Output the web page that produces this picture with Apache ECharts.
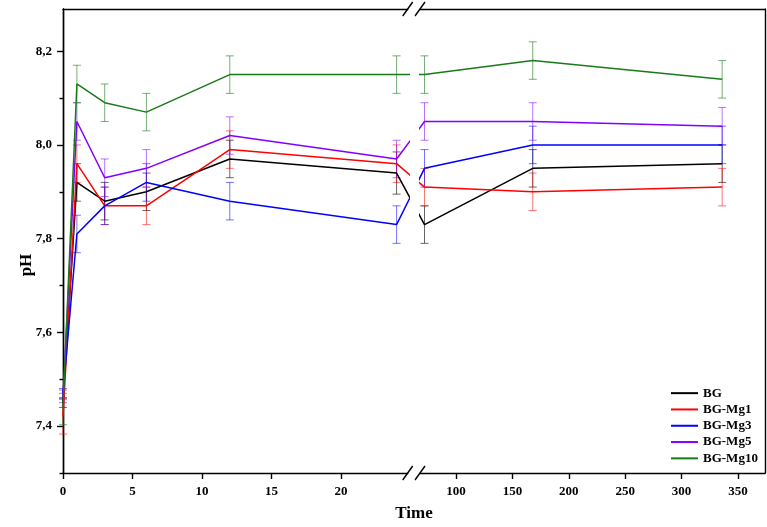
<!DOCTYPE html>
<html><head><meta charset="utf-8">
<script src="https://cdn.jsdelivr.net/npm/echarts@6/dist/echarts.min.js"></script>
<style>html,body{margin:0;padding:0;background:#fff}#c{width:767px;height:527px}</style>
</head><body><div id="c"></div>
<script>
// ---- data ----
const times = [0, 1, 3, 6, 12, 24, 72, 168, 336];
const seriesNames = ['BG', 'BG-Mg1', 'BG-Mg3', 'BG-Mg5', 'BG-Mg10'];
const bgPH    = [7.45, 7.92, 7.88, 7.90, 7.97, 7.94, 7.83, 7.95, 7.96];
const bgErr   = [0.01, 0.04, 0.04, 0.04, 0.04, 0.045, 0.04, 0.04, 0.04];
const mg1PH   = [7.42, 7.96, 7.87, 7.87, 7.99, 7.96, 7.91, 7.90, 7.91];
const mg1Err  = [0.037, 0.04, 0.04, 0.04, 0.04, 0.04, 0.04, 0.04, 0.04];
const mg3PH   = [7.47, 7.81, 7.87, 7.92, 7.88, 7.83, 7.95, 8.00, 8.00];
const mg3Err  = [0.01, 0.04, 0.04, 0.04, 0.04, 0.04, 0.04, 0.04, 0.04];
const mg5PH   = [7.46, 8.05, 7.93, 7.95, 8.02, 7.97, 8.05, 8.05, 8.04];
const mg5Err  = [0.01, 0.04, 0.04, 0.04, 0.04, 0.04, 0.04, 0.04, 0.04];
const mg10PH  = [7.44, 8.13, 8.09, 8.07, 8.15, 8.15, 8.15, 8.18, 8.14];
const mg10Err = [0.037, 0.04, 0.04, 0.04, 0.04, 0.04, 0.04, 0.04, 0.04];
const yTicksMajor = [7.4, 7.6, 7.8, 8.0, 8.2];
const yTicksMinor = [7.3, 7.5, 7.7, 7.9, 8.1];
const xTicksLeft  = [0, 5, 10, 15, 20];
const xTicksRight = [100, 150, 200, 250, 300, 350];

const values = [bgPH, mg1PH, mg3PH, mg5PH, mg10PH];
const errors = [bgErr, mg1Err, mg3Err, mg5Err, mg10Err];
const colors = ['#000000', '#ff0000', '#0000ff', '#8000ff', '#1a7a1a'];
const errColors = ['rgba(0,0,0,0.6)', 'rgba(255,0,0,0.55)', 'rgba(0,0,255,0.55)', 'rgba(128,0,255,0.55)', 'rgba(26,122,26,0.6)'];

// ---- layout ----
const FONT = "'Liberation Serif','Times New Roman',serif";
const TOP = 9, BOT = 473, LEFT_X = 63, LEFT_END = 407.7, RIGHT_START = 420, RIGHT_END = 765;
const Y_MIN = 7.3, Y_MAX = 8.29;
const BREAK_T = 48; // time separating left panel from right panel

const chart = echarts.init(document.getElementById('c'), null, {renderer: 'canvas'});

const axisLineStyle = {color: '#000', width: 1.4};
const labelStyle = {color: '#000', fontFamily: FONT, fontWeight: 'bold', fontSize: 13};

function errRender(color) {
  return function (params, api) {
    const x = api.value(0), y = api.value(1), e = api.value(2);
    const t = api.coord([x, y + e]);
    const b = api.coord([x, y - e]);
    const w = 4;
    const st = {stroke: color, lineWidth: 1};
    return {type: 'group', children: [
      {type: 'line', shape: {x1: t[0], y1: t[1], x2: b[0], y2: b[1]}, style: st},
      {type: 'line', shape: {x1: t[0] - w, y1: t[1], x2: t[0] + w, y2: t[1]}, style: st},
      {type: 'line', shape: {x1: b[0] - w, y1: b[1], x2: b[0] + w, y2: b[1]}, style: st}
    ]};
  };
}

function pts(i, left) {
  const out = [];
  times.forEach((t, k) => { if ((t < BREAK_T) === left) out.push([t, values[i][k]]); });
  return out;
}
function errPts(i, left) {
  const out = [];
  times.forEach((t, k) => { if ((t < BREAK_T) === left) out.push([t, values[i][k], errors[i][k]]); });
  return out;
}

function buildSeries(leftData, rightData) {
  const s = [];
  seriesNames.forEach((name, i) => {
    s.push({type: 'line', name: name, xAxisIndex: 0, yAxisIndex: 0, data: leftData[i], symbol: 'none',
      clip: true, color: colors[i], lineStyle: {color: colors[i], width: 1.5}, itemStyle: {color: colors[i]}, z: 3});
    s.push({type: 'line', name: name, xAxisIndex: 2, yAxisIndex: 2, data: rightData[i], symbol: 'none',
      clip: true, color: colors[i], lineStyle: {color: colors[i], width: 1.5}, itemStyle: {color: colors[i]}, z: 3});
  });
  seriesNames.forEach((name, i) => {
    s.push({type: 'custom', name: name, xAxisIndex: 0, yAxisIndex: 0, renderItem: errRender(errColors[i]),
      data: errPts(i, true), encode: {x: 0, y: 1}, z: 1, silent: true, color: colors[i], itemStyle: {color: colors[i]}});
    s.push({type: 'custom', name: name, xAxisIndex: 2, yAxisIndex: 2, renderItem: errRender(errColors[i]),
      data: errPts(i, false), encode: {x: 0, y: 1}, z: 1, silent: true, color: colors[i], itemStyle: {color: colors[i]}});
  });
  return s;
}

const leftData = seriesNames.map((n, i) => pts(i, true));
const rightData = seriesNames.map((n, i) => pts(i, false));

function slash(cx, cy) {
  return {type: 'line', shape: {x1: cx - 5, y1: cy + 7, x2: cx + 5, y2: cy - 7},
    style: {stroke: '#000', lineWidth: 1.4}, z: 10};
}

const option = {
  animation: false,
  backgroundColor: '#fff',
  color: colors,
  grid: [
    {left: LEFT_X, top: TOP, width: LEFT_END - LEFT_X, height: BOT - TOP},
    {left: RIGHT_START, top: TOP, width: RIGHT_END - RIGHT_START, height: BOT - TOP}
  ],
  xAxis: [
    {gridIndex: 0, type: 'value', position: 'bottom', min: 0, max: 24.8,
      axisLine: {onZero: false, lineStyle: axisLineStyle},
      axisTick: {customValues: xTicksLeft, length: 6, lineStyle: axisLineStyle},
      axisLabel: {customValues: xTicksLeft, margin: 12, ...labelStyle},
      splitLine: {show: false}},
    {gridIndex: 0, type: 'value', position: 'top', min: 0, max: 24.8,
      axisLine: {onZero: false, lineStyle: axisLineStyle}, axisTick: {show: false}, axisLabel: {show: false}, splitLine: {show: false}},
    {gridIndex: 1, type: 'value', position: 'bottom', min: 68, max: 374,
      axisLine: {onZero: false, lineStyle: axisLineStyle},
      axisTick: {customValues: xTicksRight, length: 6, lineStyle: axisLineStyle},
      axisLabel: {customValues: xTicksRight, margin: 12, ...labelStyle},
      splitLine: {show: false}},
    {gridIndex: 1, type: 'value', position: 'top', min: 68, max: 374,
      axisLine: {onZero: false, lineStyle: axisLineStyle}, axisTick: {show: false}, axisLabel: {show: false}, splitLine: {show: false}}
  ],
  yAxis: [
    {gridIndex: 0, type: 'value', position: 'left', min: Y_MIN, max: Y_MAX,
      axisLine: {onZero: false, lineStyle: axisLineStyle},
      axisTick: {customValues: yTicksMajor, length: 6, lineStyle: axisLineStyle},
      axisLabel: {customValues: yTicksMajor, margin: 11, ...labelStyle,
        formatter: v => v.toFixed(1).replace('.', ',')},
      splitLine: {show: false}},
    {gridIndex: 0, type: 'value', position: 'left', min: Y_MIN, max: Y_MAX,
      axisLine: {onZero: false, lineStyle: axisLineStyle},
      axisTick: {customValues: yTicksMinor, length: 3.5, lineStyle: axisLineStyle},
      axisLabel: {show: false}, splitLine: {show: false}},
    {gridIndex: 1, type: 'value', position: 'right', min: Y_MIN, max: Y_MAX,
      axisLine: {onZero: false, lineStyle: axisLineStyle}, axisTick: {show: false}, axisLabel: {show: false}, splitLine: {show: false}}
  ],
  legend: {
    left: 671, top: 385, padding: 0, orient: 'vertical', icon: 'rect', itemWidth: 27, itemHeight: 2, itemGap: 0,
    data: seriesNames.map((n, i) => ({name: n, itemStyle: {color: colors[i]}})),
    textStyle: {color: '#000', fontFamily: FONT, fontWeight: 'bold', fontSize: 13, lineHeight: 16.3}
  },
  graphic: [
    {type: 'text', x: 414, y: 514, style: {text: 'Time', fill: '#000', font: 'bold 17px ' + FONT, textAlign: 'center', textVerticalAlign: 'middle'}},
    {type: 'text', x: 27, y: 265, rotation: Math.PI / 2, style: {text: 'pH', fill: '#000', font: 'bold 17px ' + FONT, textAlign: 'center', textVerticalAlign: 'middle'}},
    slash(LEFT_END, BOT), slash(RIGHT_START, BOT), slash(LEFT_END, TOP), slash(RIGHT_START, TOP)
  ],
  series: buildSeries(leftData, rightData)
};
chart.setOption(option);

// connect the last left point with the first right point across the break,
// converting through the library's own coordinate systems
const lastLeft = times.filter(t => t < BREAK_T).length - 1;
const firstRight = lastLeft + 1;
const leftBridged = leftData.map((d, i) => {
  const px = chart.convertToPixel({xAxisIndex: 2, yAxisIndex: 2}, [times[firstRight], values[i][firstRight]]);
  return d.concat([chart.convertFromPixel({xAxisIndex: 0, yAxisIndex: 0}, px)]);
});
const rightBridged = rightData.map((d, i) => {
  const px = chart.convertToPixel({xAxisIndex: 0, yAxisIndex: 0}, [times[lastLeft], values[i][lastLeft]]);
  return [chart.convertFromPixel({xAxisIndex: 2, yAxisIndex: 2}, px)].concat(d);
});
chart.setOption({series: buildSeries(leftBridged, rightBridged)});
</script>
</body></html>
